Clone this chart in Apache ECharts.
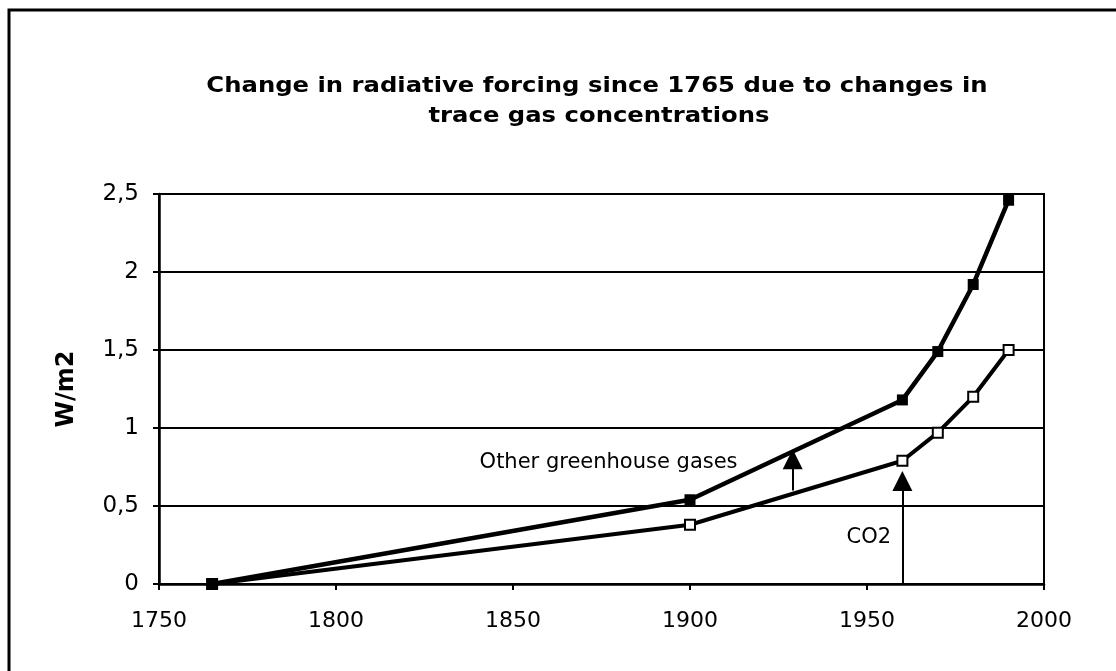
<!DOCTYPE html>
<html>
<head>
<meta charset="utf-8">
<script src="https://cdn.jsdelivr.net/npm/echarts@6/dist/echarts.min.js"></script>
<style>
html,body{margin:0;padding:0;background:#fff;}
#chart{width:1116px;height:671px;}
</style>
</head>
<body>
<div id="chart"></div>
<script>
// ---- data ----
const years = [1765, 1900, 1960, 1970, 1980, 1990];
const totalForcing = [0, 0.54, 1.18, 1.49, 1.92, 2.46];   // CO2 + other greenhouse gases (filled squares)
const co2Forcing   = [0, 0.38, 0.79, 0.97, 1.20, 1.50];   // CO2 only (open squares)
const titleLines = ['Change in radiative forcing since 1765 due to changes in', 'trace gas concentrations'];
const yAxisName = 'W/m2';
const annotationTexts = ['Other greenhouse gases', 'CO2'];
const annotationPos = [[1877, 0.78], [1950.5, 0.30]];
const arrowOther = [[1929, 0.60], [1929, 0.80]];
const arrowCO2 = [[1960, 0], [1960, 0.66]];

const chart = echarts.init(document.getElementById('chart'));
const FONT = 'DejaVu Sans';

const option = {
  backgroundColor: '#fff',
  animation: false,
  graphic: [
    { type: 'rect', shape: { x: 9, y: 10, width: 1200, height: 800 },
      style: { fill: 'none', stroke: '#000', lineWidth: 3 }, silent: true },
    { type: 'text', x: 597, y: 87, scaleX: 1.157,
      style: { text: titleLines[0], textAlign: 'center', textVerticalAlign: 'middle',
               font: 'bold 21px "' + FONT + '"', fill: '#000' } },
    { type: 'text', x: 599, y: 117, scaleX: 1.157,
      style: { text: titleLines[1], textAlign: 'center', textVerticalAlign: 'middle',
               font: 'bold 21px "' + FONT + '"', fill: '#000' } }
  ],
  grid: { left: 159, right: 72, top: 194, bottom: 87, show: true, borderColor: '#000', borderWidth: 2,
          containLabel: false, outerBoundsMode: 'none' },
  xAxis: {
    type: 'value', min: 1750, max: 2000, interval: 50,
    axisLine: { show: true, lineStyle: { color: '#000', width: 2.5 } },
    axisTick: { show: true, length: 6, lineStyle: { color: '#000', width: 2 } },
    axisLabel: { color: '#000', fontFamily: FONT, fontSize: 22, margin: 26,
                 formatter: v => String(v) },
    splitLine: { show: false }
  },
  yAxis: {
    type: 'value', min: 0, max: 2.5, interval: 0.5,
    name: yAxisName, nameLocation: 'middle', nameRotate: 90, nameGap: 80,
    nameTextStyle: { color: '#000', fontFamily: FONT, fontWeight: 'bold', fontSize: 24 },
    axisLine: { show: true, lineStyle: { color: '#000', width: 2.5 } },
    axisTick: { show: true, length: 6, lineStyle: { color: '#000', width: 2 } },
    axisLabel: { color: '#000', fontFamily: FONT, fontSize: 23, margin: 20,
                 formatter: v => String(v).replace('.', ',') },
    splitLine: { show: true, lineStyle: { color: '#000', width: 2 } }
  },
  series: [
    {
      type: 'line', name: 'CO2',
      data: years.map((y, i) => [y, co2Forcing[i]]),
      lineStyle: { color: '#000', width: 4 },
      symbol: 'rect', symbolSize: 10,
      itemStyle: { color: '#fff', borderColor: '#000', borderWidth: 2 },
      z: 3
    },
    {
      type: 'line', name: 'Total',
      data: years.map((y, i) => [y, totalForcing[i]]),
      lineStyle: { color: '#000', width: 4.5 },
      symbol: 'rect', symbolSize: 11,
      itemStyle: { color: '#000', borderColor: '#000', borderWidth: 0 },
      z: 4
    },
    {
      type: 'lines', coordinateSystem: 'cartesian2d',
      symbol: ['none', 'triangle'], symbolSize: 20,
      lineStyle: { color: '#000', width: 2, opacity: 1 },
      itemStyle: { color: '#000' },
      data: [ { coords: arrowOther }, { coords: arrowCO2 } ],
      z: 5
    },
    {
      type: 'scatter', symbolSize: 0,
      data: annotationPos.map((p, i) => ({ value: p, name: annotationTexts[i] })),
      label: { show: true, position: 'inside', formatter: p => p.name,
               color: '#000', fontFamily: FONT, fontSize: 21, opacity: 1 },
      z: 6
    }
  ]
};
chart.setOption(option);
</script>
</body>
</html>
